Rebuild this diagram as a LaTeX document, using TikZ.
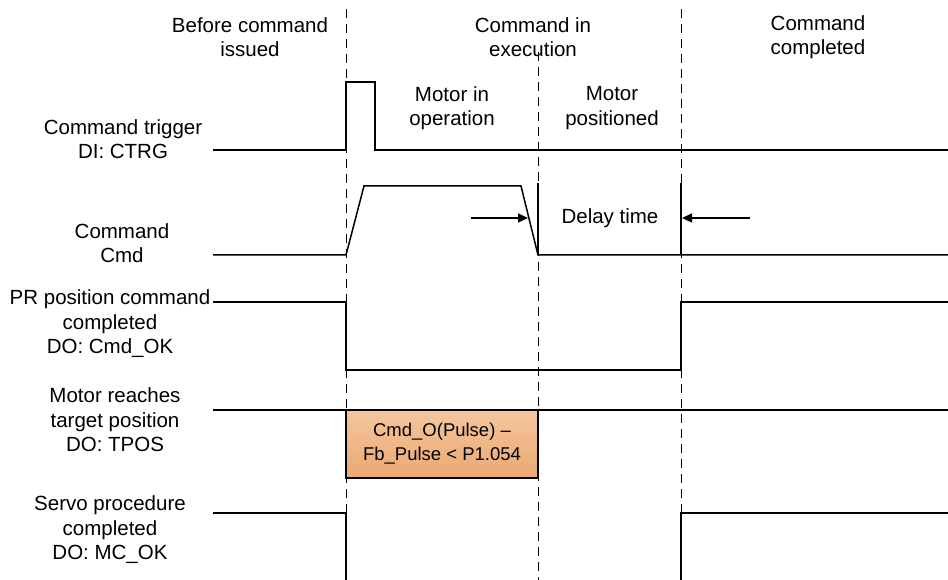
\documentclass[tikz,border=0pt]{standalone}
\usepackage{fontspec}
\setmainfont{Liberation Sans}
\usetikzlibrary{arrows.meta,positioning}
\definecolor{boxtop}{RGB}{244,198,158}
\definecolor{boxbot}{RGB}{235,168,114}

\begin{document}
\begin{tikzpicture}[x=1pt,y=-1pt,font=\fontsize{20.5}{24.5}\selectfont,
                    every node/.style={align=center,inner sep=0pt},
                    sig/.style={line width=1.5pt},
                    phase/.style={line width=1pt,dash pattern=on 9pt off 6pt},
                    stopline/.style={line width=1.2pt},
                    dly/.style={line width=1.3pt,-{Triangle[length=10pt,width=9pt]}},
                    winbox/.style={draw,line width=1.5pt,top color=boxtop,bottom color=boxbot,
                                   minimum width=192pt,minimum height=68pt,
                                   font=\fontsize{18.5}{24}\selectfont}]
  \useasboundingbox (0,0) rectangle (948,580);

  \draw[phase] (346,9) -- (346,580);
  \draw[phase] (538,52) -- (538,580);
  \draw[phase] (681,9) -- (681,580);

  \node (ph_0) at (250,37)  {Before command\\issued};
  \node (ph_1) at (533,37)  {Command in\\execution};
  \node (ph_2) at (818,37)  {Command\\completed};
  \node (st_0) at (452,108) {Motor in\\operation};
  \node (st_1) at (612,108) {Motor\\positioned};

  \node (s_0) at (123,139) {Command trigger\\DI: CTRG};
  \node (s_1) at (122,243) {Command\\Cmd};
  \node (s_2) at (110,324) {PR position command\\completed\\DO: Cmd\_OK};
  \node (s_3) at (115,420) {Motor reaches\\target position\\DO: TPOS};
  \node (s_4) at (110,530) {Servo procedure\\completed\\DO: MC\_OK};

  \draw[sig] (213,150) -- (346,150) -- (346,82) -- (375,82) -- (375,150) -- (948,150);
  \draw[sig] (213,255) -- (346,255) -- (364,186) -- (521,186) -- (538,255) -- (948,255);
  \draw[stopline] (538,183) coordinate (m_0) -- (538,255);
  \draw[stopline] (681,183) coordinate (m_1) -- (681,255);
  \draw[sig] (213,302) -- (346,302) -- (346,370) -- (681,370) -- (681,302) -- (948,302);
  \draw[sig] (213,410) -- (948,410);
  \node[winbox] (win) at (442,444) {Cmd\_O(Pulse) --\\Fb\_Pulse < P1.054};
  \draw[sig] (213,513) -- (346,513) -- (346,580);
  \draw[sig] (681,580) -- (681,513) -- (948,513);

  \node (dt) at (610,218) {Delay time};
  \coordinate (d_0) at (471,218);
  \coordinate (d_1) at (750,218);
  \draw[dly] (d_0) -- (528,218);
  \draw[dly] (d_1) -- (682,218);
\end{tikzpicture}
\end{document}
